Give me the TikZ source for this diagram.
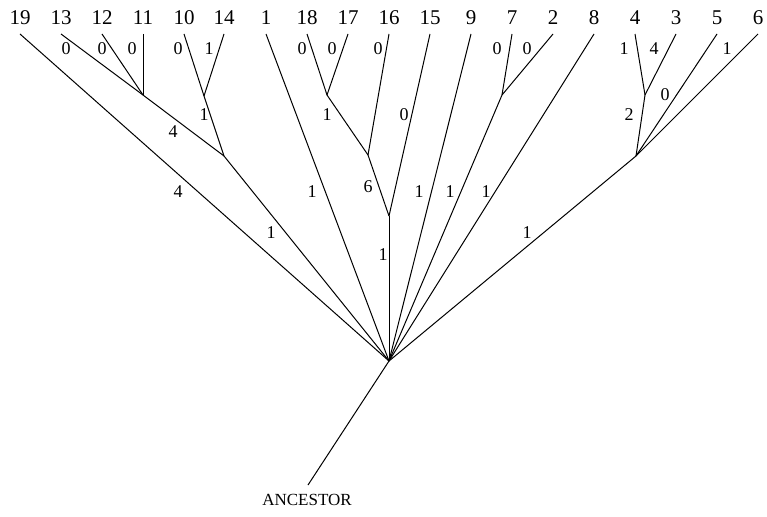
\documentclass[tikz,border=0pt]{standalone}
\usepackage{fontspec}
\setmainfont{Liberation Serif}
\begin{document}
\begin{tikzpicture}[x=1pt,y=-1pt,
  leaf/.style={inner sep=0pt,font=\fontsize{21}{21}\selectfont},
  elabel/.style={inner sep=0pt,font=\fontsize{18}{18}\selectfont},
  branch/.style={line width=1pt,line join=miter}]
\useasboundingbox (0,0) rectangle (767,516);

% leaf names
\foreach \n/\x in {19/20,13/61,12/102,11/143,10/184,14/224,1/266,18/307,17/348,16/389,15/430,9/471,7/512,2/553,8/594,4/635,3/676,5/717,6/758}{
  \node[leaf] (l\n) at (\x,18) {\n};
  \coordinate (t\n) at (\x,34);
}

% internal nodes
\coordinate (A) at (143,95);   % 13,12,11
\coordinate (B) at (204,96);   % 10,14
\coordinate (C) at (224,156);  % A,B
\coordinate (D) at (327,95);   % 18,17
\coordinate (E) at (368,155);  % D,16
\coordinate (F) at (389,216);  % E,15
\coordinate (G) at (502,95);   % 7,2
\coordinate (H) at (645,95);   % 4,3
\coordinate (I) at (636,156);  % H,5,6
\coordinate (R) at (389,361);  % root
\coordinate (anc) at (308,485);
\node[elabel,font=\fontsize{17}{17}\selectfont] (ancl) at (307,500) {ANCESTOR};

% branches
\draw[branch] (t13) -- (A); \draw[branch] (t12) -- (A); \draw[branch] (t11) -- (A);
\draw[branch] (t10) -- (B); \draw[branch] (t14) -- (B);
\draw[branch] (A) -- (C); \draw[branch] (B) -- (C);
\draw[branch] (t18) -- (D); \draw[branch] (t17) -- (D);
\draw[branch] (D) -- (E); \draw[branch] (t16) -- (E);
\draw[branch] (E) -- (F); \draw[branch] (t15) -- (F);
\draw[branch] (t7) -- (G); \draw[branch] (t2) -- (G);
\draw[branch] (t4) -- (H); \draw[branch] (t3) -- (H);
\draw[branch] (H) -- (I); \draw[branch] (t5) -- (I); \draw[branch] (t6) -- (I);
\draw[branch] (t19) -- (R); \draw[branch] (C) -- (R); \draw[branch] (t1) -- (R);
\draw[branch] (F) -- (R); \draw[branch] (t9) -- (R); \draw[branch] (G) -- (R);
\draw[branch] (t8) -- (R); \draw[branch] (I) -- (R);
\draw[branch] (R) -- (anc);

% branch lengths
\node[elabel] (e13) at (66,49) {0};
\node[elabel] (e12) at (102,49) {0};
\node[elabel] (e11) at (132,49) {0};
\node[elabel] (e10) at (178,49) {0};
\node[elabel] (e14) at (209,49) {1};
\node[elabel] (eB) at (204,115) {1};
\node[elabel] (eA) at (173,132) {4};
\node[elabel] (e19) at (178,192) {4};
\node[elabel] (eC) at (271,233) {1};
\node[elabel] (e1) at (312,192) {1};
\node[elabel] (e18) at (302,49) {0};
\node[elabel] (e17) at (332,49) {0};
\node[elabel] (e16) at (378,49) {0};
\node[elabel] (eD) at (327,115) {1};
\node[elabel] (e15) at (404,115) {0};
\node[elabel] (eE) at (368,187) {6};
\node[elabel] (eF) at (383,255) {1};
\node[elabel] (e9) at (419,192) {1};
\node[elabel] (eG) at (450,192) {1};
\node[elabel] (e8) at (486,192) {1};
\node[elabel] (e7) at (497,49) {0};
\node[elabel] (e2) at (527,49) {0};
\node[elabel] (e4) at (624,49) {1};
\node[elabel] (e3) at (654,49) {4};
\node[elabel] (e5) at (665,95) {0};
\node[elabel] (e6) at (727,49) {1};
\node[elabel] (eH) at (629,115) {2};
\node[elabel] (eI) at (527,233) {1};
\end{tikzpicture}
\end{document}
